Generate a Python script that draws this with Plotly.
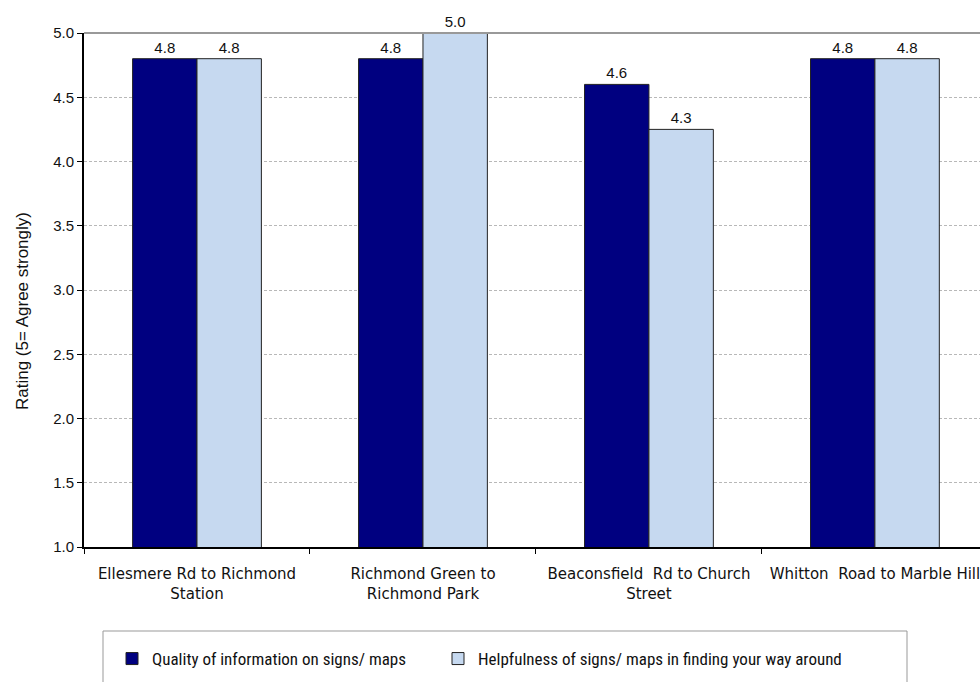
import plotly.graph_objects as go

categories = ["Ellesmere Rd to Richmond<br>Station", "Richmond Green to<br>Richmond Park",
              "Beaconsfield  Rd to Church<br>Street", "Whitton  Road to Marble Hill"]
quality = [4.8, 4.8, 4.6, 4.8]
helpfulness = [4.8, 5.0, 4.25, 4.8]
series_names = ["Quality of information on signs/ maps",
                "Helpfulness of signs/ maps in finding your way around"]
y_ticks = [1.0, 1.5, 2.0, 2.5, 3.0, 3.5, 4.0, 4.5, 5.0]
y_title = "Rating (5= Agree strongly)"

label_font = dict(family="Liberation Sans, Arial, sans-serif", size=15, color="#111")
legend_font = dict(family="Liberation Sans Narrow, Arial Narrow, Roboto Condensed, Liberation Sans, sans-serif",
                   size=17, color="#111")

fig = go.Figure()
fig.add_trace(go.Bar(x=categories, y=quality, name=series_names[0], legend="legend",
                     marker=dict(color="#000080", line=dict(color="#222", width=1)),
                     texttemplate="%{y:.1f}", textposition="outside", textfont=label_font,
                     cliponaxis=False))
fig.add_trace(go.Bar(x=categories, y=helpfulness, name=series_names[1], legend="legend2",
                     marker=dict(color="#C6D9F0", line=dict(color="#222", width=1)),
                     texttemplate="%{y:.1f}", textposition="outside", textfont=label_font,
                     cliponaxis=False))

leg_y = (547 - 659) / 514
fig.update_layout(
    width=980, height=682,
    margin=dict(l=84, r=0, t=33, b=135),
    paper_bgcolor="white", plot_bgcolor="white",
    barmode="group", bargap=0.43, bargroupgap=0,
    font=dict(family="Liberation Sans, Arial, sans-serif", size=15, color="#111"),
    showlegend=True,
    legend=dict(orientation="h", x=(112 - 84) / 896, xanchor="left", y=leg_y, yanchor="middle",
                font=legend_font, bgcolor="rgba(0,0,0,0)"),
    legend2=dict(orientation="h", x=(438 - 84) / 896, xanchor="left", y=leg_y, yanchor="middle",
                 font=legend_font, bgcolor="rgba(0,0,0,0)"),
    xaxis=dict(type="category", range=[-0.5, 3.465], showline=True, linecolor="black", linewidth=2,
               ticks="outside", tickson="boundaries", ticklen=5, tickcolor="black",
               tickfont=dict(family="DejaVu Sans, Verdana, sans-serif", size=15, color="#111"),
               ticklabelstandoff=12, showgrid=False, zeroline=False),
    yaxis=dict(range=[1, 5], tickvals=y_ticks, tickformat=".1f", showline=True, linecolor="black",
               linewidth=2, ticks="outside", ticklen=5, tickcolor="black",
               tickfont=dict(family="Liberation Sans, Arial, sans-serif", size=15, color="#111"),
               showgrid=True, gridcolor="#b8b8b8", gridwidth=1, griddash="3px,2px", zeroline=False),
    annotations=[dict(text=y_title, xref="paper", yref="paper", x=0, xshift=-62, y=(547 - 311) / 514,
                      xanchor="center", yanchor="middle", textangle=-90, showarrow=False,
                      font=dict(family="Liberation Sans, Arial, sans-serif", size=17, color="#111"))],
    shapes=[
        dict(type="line", xref="paper", yref="paper", x0=0, x1=1, y0=1, y1=1,
             line=dict(color="#999", width=2)),
        dict(type="rect", xref="paper", yref="paper",
             x0=(103 - 84) / 896, x1=(907 - 84) / 896, y0=(547 - 631) / 514, y1=(547 - 700) / 514,
             line=dict(color="#999", width=1), fillcolor="rgba(0,0,0,0)"),
    ],
)

fig.write_html("out.html", config={"displayModeBar": False},
               post_script="document.body.style.margin='0';document.body.style.overflow='hidden';")
